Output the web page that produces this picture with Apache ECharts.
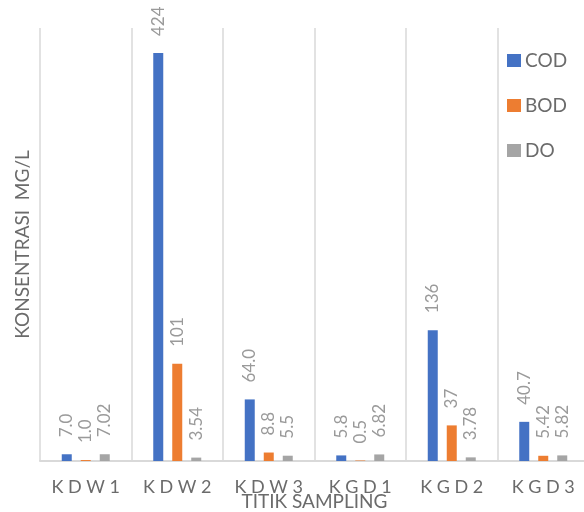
<!DOCTYPE html>
<html>
<head>
<meta charset="utf-8">
<script src="https://cdn.jsdelivr.net/npm/echarts@6/dist/echarts.min.js"></script>
<style>
html,body{margin:0;padding:0;background:#fff;}
#c{width:584px;height:512px;}
</style>
</head>
<body>
<div id="c"></div>
<script>
const categories = ['KDW1', 'KDW2', 'KDW3', 'KGD1', 'KGD2', 'KGD3'];
const codValues = [7.0, 424, 64.0, 5.8, 136, 40.7];
const bodValues = [1.0, 101, 8.8, 0.5, 37, 5.42];
const doValues = [7.02, 3.54, 5.5, 6.82, 3.78, 5.82];
const codLabels = ['7.0', '424', '64.0', '5.8', '136', '40.7'];
const bodLabels = ['1.0', '101', '8.8', '0.5', '37', '5.42'];
const doLabels = ['7.02', '3.54', '5.5', '6.82', '3.78', '5.82'];

const FONT = 'Lato';
const chart = echarts.init(document.getElementById('c'), null, {renderer: 'canvas'});

function mkSeries(name, data, labels, color) {
  return {
    name: name,
    type: 'bar',
    data: data,
    barWidth: 10,
    barGap: '90%',
    itemStyle: {color: color},
    label: {
      show: true,
      position: 'top',
      rotate: 90,
      align: 'left',
      verticalAlign: 'middle',
      distance: 17,
      fontFamily: FONT,
      fontSize: 17,
      color: '#9a9a9a',
      formatter: p => labels[p.dataIndex]
    }
  };
}

chart.setOption({
  animation: false,
  backgroundColor: '#fff',
  grid: {left: 40, right: -5, top: 28, bottom: 51, containLabel: false, outerBoundsMode: 'none'},
  legend: {
    orient: 'vertical',
    left: 502,
    top: 46,
    itemWidth: 14,
    itemHeight: 13,
    itemGap: 26,
    icon: 'rect',
    textStyle: {fontFamily: FONT, fontSize: 19, color: '#6b6b6b', padding: [0, 0, 0, -1]},
    data: ['COD', 'BOD', 'DO']
  },
  xAxis: {
    type: 'category',
    data: categories,
    name: 'TITIK SAMPLING',
    nameLocation: 'middle',
    nameGap: 31,
    nameMoveOverlap: false,
    nameTextStyle: {fontFamily: FONT, fontSize: 19, color: '#6b6b6b'},
    axisLine: {show: true, lineStyle: {color: '#d9d9d9', width: 2}},
    axisTick: {show: false},
    splitLine: {show: true, lineStyle: {color: '#d9d9d9', width: 1.5}},
    axisLabel: {
      margin: 17,
      fontFamily: FONT,
      fontSize: 18,
      color: '#6b6b6b',
      formatter: v => v.split('').join(' ')
    }
  },
  yAxis: {
    type: 'value',
    min: 0,
    max: 450,
    name: 'KONSENTRASI  MG/L',
    nameLocation: 'middle',
    nameGap: 8,
    nameMoveOverlap: false,
    nameTextStyle: {fontFamily: FONT, fontSize: 19, color: '#6b6b6b'},
    axisLine: {show: false},
    axisTick: {show: false},
    axisLabel: {show: false},
    splitLine: {show: false}
  },
  series: [
    mkSeries('COD', codValues, codLabels, '#4472C4'),
    mkSeries('BOD', bodValues, bodLabels, '#ED7D31'),
    mkSeries('DO', doValues, doLabels, '#A5A5A5')
  ]
});
</script>
</body>
</html>
